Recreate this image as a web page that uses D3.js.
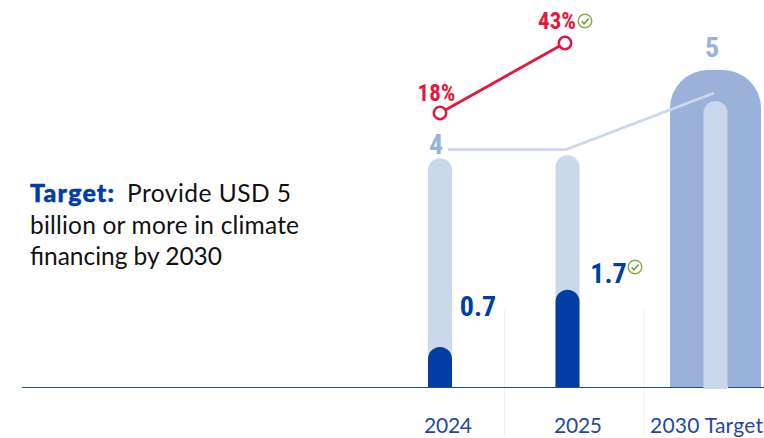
<!DOCTYPE html>
<html>
<head>
<meta charset="utf-8">
<script src="https://cdn.jsdelivr.net/npm/d3@7/dist/d3.min.js"></script>
<style>
html,body{margin:0;padding:0;background:#fff}
svg{display:block}
text{font-family:Lato,"Open Sans","Noto Sans",sans-serif}
.big{font-family:"Liberation Sans Narrow","Roboto Condensed","Liberation Sans",sans-serif;font-weight:700}
</style>
</head>
<body>
<svg id="chart" width="764" height="438"></svg>
<script>
const categories = ["2024", "2025", "2030 Target"];
const targetValues = [4, 4.05, 5];
const actualValues = [0.7, 1.7];
const targetBackdrop = 5.54;
const trendValues = [4.15, 4.15, 5.14];
const shareValues = [18, 43];
const shareLabels = ["18%", "43%"];
const barLabels = ["0.7", "1.7"];
const introLines = ["Provide USD 5", "billion or more in climate", "financing by 2030"];

const W = 764, H = 438, baseY = 387;
const svg = d3.select("#chart");

const x = d3.scaleOrdinal(categories, [440, 567.5, 715.5]);
const xShare = d3.scaleOrdinal(categories.slice(0, 2), [440, 565]);
const y = d3.scaleLinear().domain([0, 5]).range([baseY, 101]);
const yShare = d3.scaleLinear().domain([18, 43]).range([113, 43]);

// Column with rounded top corners, square at the baseline
function column(cx, w, top, r, bottom = baseY) {
  const p = d3.path(), l = cx - w / 2, rt = cx + w / 2;
  p.moveTo(l, bottom);
  p.lineTo(l, top + r);
  p.arcTo(l, top, l + r, top, r);
  p.lineTo(rt - r, top);
  p.arcTo(rt, top, rt, top + r, r);
  p.lineTo(rt, bottom);
  p.closePath();
  return p.toString();
}

// Faint separators between the category labels
svg.selectAll("line.sep").data([504.5, 644]).join("line")
  .attr("class", "sep")
  .attr("x1", d => d).attr("x2", d => d)
  .attr("y1", 310).attr("y2", 435)
  .attr("stroke", "#eceef2").attr("stroke-width", 1);

// Wide backdrop behind the 2030 target
svg.append("path")
  .attr("d", column(x(categories[2]), 91, y(targetBackdrop), 38))
  .attr("fill", "#9ab1d9");

// Achieved and target columns sit on the baseline
svg.selectAll("path.target").data(targetValues).join("path")
  .attr("class", "target")
  .attr("d", (d, i) => column(x(categories[i]), 24, y(d), 12))
  .attr("fill", "#cbd8ec");

svg.selectAll("path.actual").data(actualValues).join("path")
  .attr("class", "actual")
  .attr("d", (d, i) => column(x(categories[i]), 24, y(d), 12))
  .attr("fill", "#003da5");

// Baseline
svg.append("line")
  .attr("x1", 22).attr("x2", 704)
  .attr("y1", baseY + 0.5).attr("y2", baseY + 0.5)
  .attr("stroke", "#1c4ba6").attr("stroke-width", 1.2);
svg.append("line")
  .attr("x1", 728).attr("x2", 764)
  .attr("y1", baseY + 0.5).attr("y2", baseY + 0.5)
  .attr("stroke", "#1c4ba6").attr("stroke-width", 1.2);

// Lower end of the 2030 inner column, drawn over the baseline
svg.append("rect")
  .attr("x", x(categories[2]) - 12).attr("width", 24)
  .attr("y", baseY - 1).attr("height", 3)
  .attr("fill", "#cbd8ec");

// Trend line above the columns, starting just right of the "4" label
const trend = d3.line()
  .x((d, i) => x(categories[i]) + [8, -1.5, -1.5][i])
  .y(d => y(d));
svg.append("path")
  .datum(trendValues)
  .attr("d", trend)
  .attr("fill", "none").attr("stroke", "#cbd8ec").attr("stroke-width", 2.8);

// Share line with hollow markers
const share = d3.line()
  .x((d, i) => xShare(categories[i]))
  .y(d => yShare(d));
svg.append("path")
  .datum(shareValues)
  .attr("d", share)
  .attr("fill", "none").attr("stroke", "#e4173e").attr("stroke-width", 2.8);
svg.selectAll("circle.share").data(shareValues).join("circle")
  .attr("class", "share")
  .attr("cx", (d, i) => xShare(categories[i]))
  .attr("cy", d => yShare(d))
  .attr("r", 6.2)
  .attr("fill", "#fff").attr("stroke", "#e4173e").attr("stroke-width", 2.6);

// Value labels
function label(txt, px, py, size, fill, anchor = "middle") {
  return svg.append("text").attr("class", "big")
    .attr("x", px).attr("y", py)
    .attr("font-size", size).attr("fill", fill)
    .attr("text-anchor", anchor).text(txt);
}
label(shareLabels[0], 436.5, 101, 23, "#e4173e");
label(shareLabels[1], 557, 29, 23, "#e4173e");
label(String(targetValues[0]), 436, 154, 28, "#9ab1d9");
label(String(targetValues[2]), 712, 57, 28, "#9ab1d9");
label(barLabels[0], 478, 316, 28, "#003da5");
label(barLabels[1], 608.5, 283, 28, "#003da5");

// Green check badges
function check(cx, cy) {
  const g = svg.append("g").attr("transform", `translate(${cx},${cy})`);
  g.append("circle").attr("r", 6.8).attr("fill", "none")
    .attr("stroke", "#8fa84a").attr("stroke-width", 1.4);
  g.append("path").attr("d", "M-3.4,0.2L-0.9,2.8L3.6,-2.4")
    .attr("fill", "none").attr("stroke", "#6f9a3a").attr("stroke-width", 1.5);
}
check(585, 21);
check(635, 267);

// Category labels, each fitted to its column of the footer
const catLabelStart = [424, 554, 650];
const catLabelWidth = [48, 48, 113];
svg.selectAll("text.cat").data(categories).join("text")
  .attr("class", "cat")
  .attr("x", (d, i) => catLabelStart[i])
  .attr("y", 433)
  .attr("font-size", 21)
  .attr("fill", "#1f4a9c")
  .attr("textLength", (d, i) => catLabelWidth[i])
  .text(d => d);

// Intro copy on the left
svg.append("text")
  .attr("x", 30).attr("y", 202)
  .attr("font-size", 25).attr("font-weight", 900)
  .attr("fill", "#003da5")
  .attr("stroke", "#003da5").attr("stroke-width", 0.5)
  .attr("textLength", 84)
  .text("Target:");
const introX = [127, 30, 30];
const introY = [202, 234, 265];
const introWidth = [164, 269, 192];
svg.selectAll("text.intro").data(introLines).join("text")
  .attr("class", "intro")
  .attr("x", (d, i) => introX[i])
  .attr("y", (d, i) => introY[i])
  .attr("font-size", 24.5).attr("fill", "#111")
  .attr("textLength", (d, i) => introWidth[i])
  .text(d => d);
</script>
</body>
</html>
